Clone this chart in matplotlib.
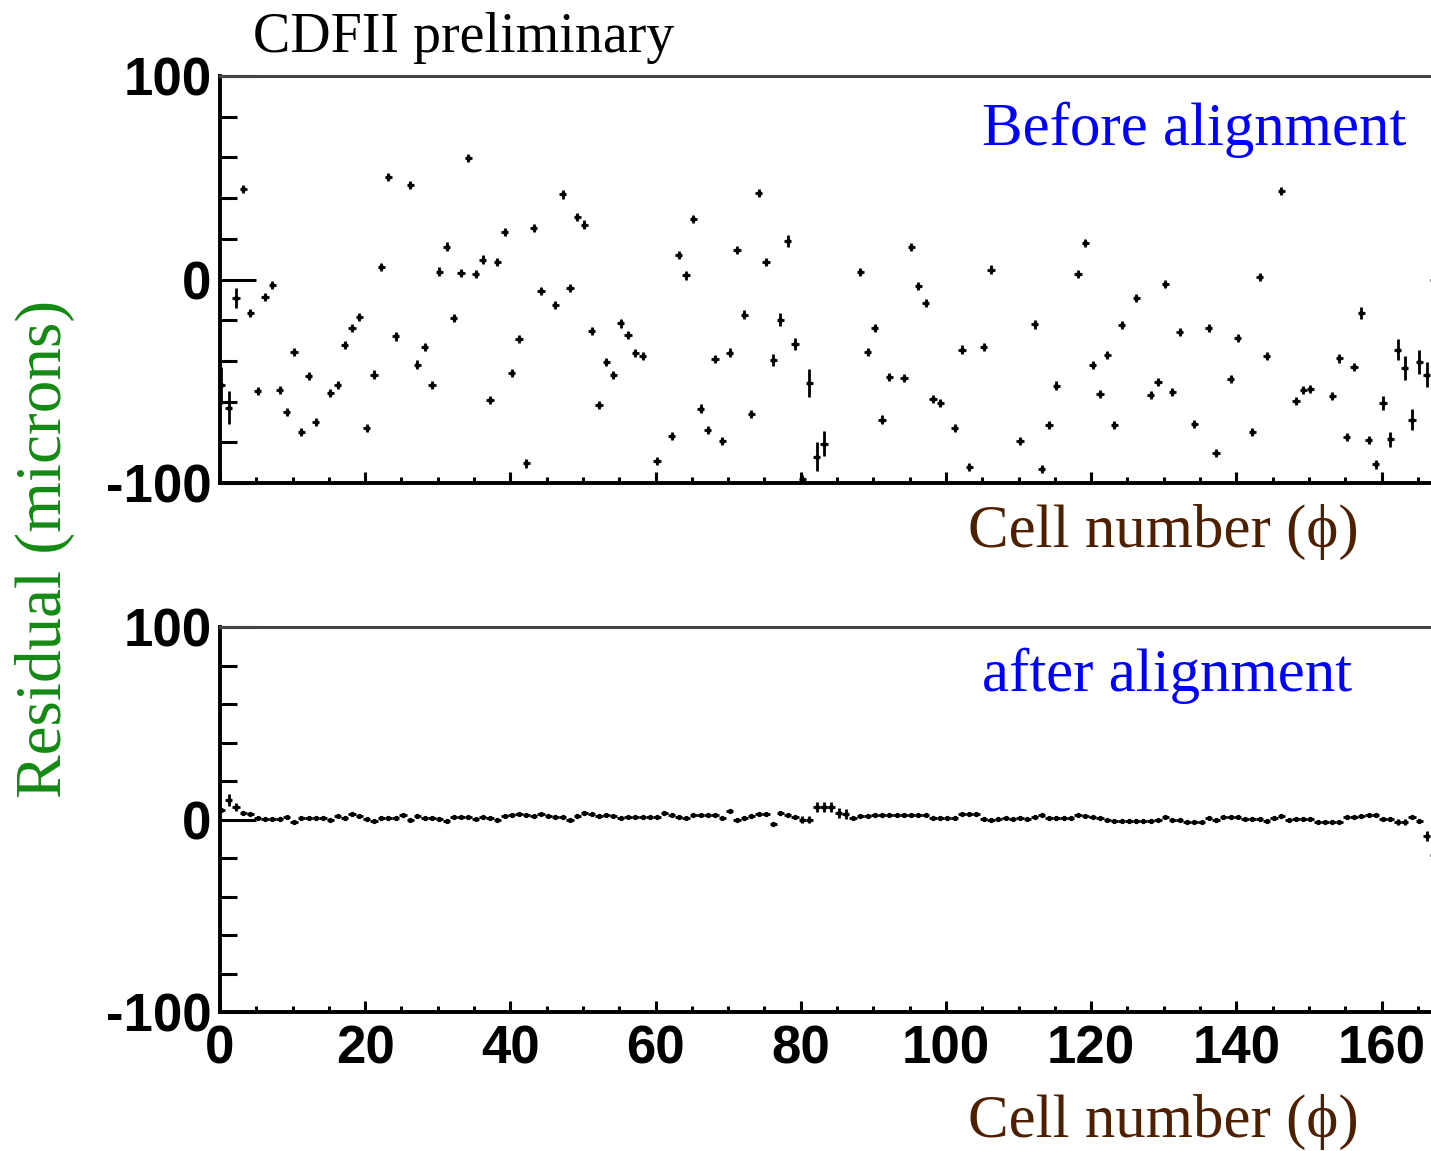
import numpy as np
import matplotlib
matplotlib.use("Agg")
import matplotlib.pyplot as plt
from matplotlib.ticker import MultipleLocator

plt.rcParams["axes.unicode_minus"] = False
nan = np.nan

# residuals per cell (microns), cells 0..167; nan = outside the plotted range
before = [
    -52, -63, -9, 44.6, -16.4, -55, -8.5, -2.8, -54.5, -65,
    -35.7, -75, -47.5, -70, nan, -55.7, -52, -32, -23.7, -18.3,
    -73, -46.7, 6.2, 50.5, -28, nan, 46.3, -41.8, -33, -52,
    3.9, 16.2, -18.8, 3.3, 59.8, 2.5, 9.8, -59.3, 8.8, 23.4,
    -45.9, -29.2, -90.4, 25.4, -5.7, nan, -12.4, 41.8, -4.3, 30.6,
    27, -25.4, -61.6, -40.4, -46.8, -21.6, -27.2, -36, -37.5, nan,
    -89.3, nan, -76.7, 11.9, 2, 29.8, -63.4, -74, -39.2, -79.5,
    -35.9, 14.4, -17.2, -66.3, 42.6, 8.7, -39.6, -19.7, 18.8, -31.6,
    -98, -50.8, -87, -80.6, nan, nan, nan, nan, 3.8, -35.7,
    -23.8, -68.8, -47.8, nan, -48.6, 16, -3.3, -11.5, -58.6, -60.6,
    nan, -72.9, -34.4, -92, nan, -33.1, 4.9, nan, nan, nan,
    -79.5, nan, -22.1, -93, -71.6, -52.1, nan, nan, 2.8, 18,
    -42.1, -56.2, -36.9, -71.7, -22.4, nan, -9.2, nan, -56.8, -50.3,
    -2.1, -55.2, -25.9, nan, -70.9, nan, -23.7, -85.2, nan, -49.1,
    -28.7, nan, -75, 1.1, -37.7, nan, 43.4, nan, -59.5, -54.5,
    -53.7, nan, nan, -57.3, -38.8, -77.5, -42.9, -16.4, -79, -90.9,
    -60.6, -78.6, -34.4, -43.4, -68.8, -40.6, -46.7, 0,
]
before_err = [2.0] * 168
for c, e in {0: 9, 1: 8, 2: 5, 76: 3, 77: 3, 78: 3, 79: 3, 81: 7, 82: 7, 83: 6,
             157: 3, 160: 3.5, 161: 3.5, 162: 5, 163: 6, 164: 5, 165: 6, 166: 6}.items():
    before_err[c] = e

after = [
    5, 10, 6.5, 3.5, 3, 1, 0.5, 0.5, 0.5, 1.5,
    -1.5, 0.8, 1, 1, 0.8, -0.3, 2, 1, 2.8, 1.8,
    0.5, -0.8, 0.7, 0.8, 1, 2.5, 0, 2, 0.8, 0.7,
    0.5, -0.7, 1.5, 1.5, 1.2, 0.2, 1.2, 1, 0, 1.8,
    2.5, 3, 2.5, 2, 2.8, 1.8, 1.5, 1.5, 0, 2,
    3.2, 3, 1.8, 2.5, 2, 1, 1.5, 1.5, 1.5, 1.5,
    1.2, 3.2, 2.2, 1.5, 0.7, 2.5, 2.5, 2.2, 2.2, 0.8,
    4.5, 0, 1, 2, 3, 3, -2.5, 3.3, 2.5, 1.5,
    0, 0, 6.5, 6.5, 6.5, 3.5, 3, 1, 2, 2,
    2.2, 2.2, 2.2, 2.5, 2.5, 2.5, 2.5, 2.5, 0.8, 0.8,
    0.8, 0.8, 3, 3, 3, 0.2, 0, 0.5, 0.9, 0.4,
    0.9, 0.4, 1.2, 2.2, 0.9, 0.9, 0.9, 0.9, 2.2, 1.8,
    1.5, 0.9, -0.5, -0.8, -0.8, -0.8, -0.8, -0.8, -0.8, -0.5,
    1.2, 0, 0, -1.2, -1.2, -1.2, 1, -0.3, 1.4, 1.4,
    1.4, 0.2, 0.2, 0.2, -0.9, 1, 1.6, -0.5, 0.5, 0.5,
    0.5, -1.4, -1.4, -1.2, -1.2, 1.4, 1.4, 2, 2.2, 2.2,
    0.2, 0.2, -1.4, -1.4, 1.4, -0.8, -8.5, -18.5,
]
after_err = [1.0] * 168
for c, e in {1: 3, 2: 2, 80: 2, 81: 2, 82: 2.5, 83: 2.5, 84: 2.5, 85: 2.5, 86: 2.5,
             162: 1.5, 163: 1.5, 166: 2.5, 167: 2.5}.items():
    after_err[c] = e

cells = np.arange(len(before))
xpos = cells + 0.2

serif = ["Liberation Serif", "DejaVu Serif"]
sans = "Liberation Sans"

fig = plt.figure(figsize=(14.31, 11.51), dpi=100)
W, H = 1431, 1151


def frame(ax, ticklabels_x):
    ax.set_xlim(0, 167.4)
    ax.set_ylim(-100, 100)
    ax.xaxis.set_major_locator(MultipleLocator(20))
    ax.xaxis.set_minor_locator(MultipleLocator(5))
    ax.yaxis.set_major_locator(MultipleLocator(100))
    ax.yaxis.set_minor_locator(MultipleLocator(20))
    ax.tick_params(axis="both", which="both", direction="in", width=2.2,
                   top=False, right=False, color="black")
    ax.tick_params(axis="y", which="major", length=26, pad=6)
    ax.tick_params(axis="y", which="minor", length=12)
    ax.tick_params(axis="x", which="major", length=8, pad=9)
    ax.tick_params(axis="x", which="minor", length=4)
    ax.tick_params(axis="x", labelbottom=ticklabels_x)
    for lab in ax.get_xticklabels() + ax.get_yticklabels():
        lab.set_fontfamily(sans)
        lab.set_fontweight("bold")
        lab.set_fontsize(38)
    ax.spines["left"].set_linewidth(2.8)
    ax.spines["bottom"].set_linewidth(2.8)
    ax.spines["top"].set_linewidth(2.2)
    ax.spines["top"].set_color("#444444")
    ax.spines["right"].set_visible(False)


ax1 = fig.add_axes([220 / W, 1 - 483 / H, 1.0 - 220 / W + 0.003, (483 - 76) / H])
ax1.errorbar(xpos, before, yerr=before_err, xerr=0.5, fmt="o", ms=2.8,
             color="black", ecolor="black", elinewidth=2.0, capsize=0)
frame(ax1, False)

ax2 = fig.add_axes([220 / W, 1 - 1012 / H, 1.0 - 220 / W + 0.003, (1012 - 627) / H])
ax2.errorbar(xpos, after, yerr=after_err, xerr=0.5, fmt="o", ms=2.8,
             color="black", ecolor="black", elinewidth=2.0, capsize=0)
frame(ax2, True)

brown = "#4f2000"
fig.text(253 / W, 1 - 52 / H, "CDFII preliminary", family=serif, fontsize=40.3,
         color="black", ha="left", va="baseline")
fig.text(982 / W, 1 - 145 / H, "Before alignment", family=serif, fontsize=43.8,
         color="#0000ff", ha="left", va="baseline")
fig.text(982 / W, 1 - 691 / H, "after alignment", family=serif, fontsize=43.8,
         color="#0000ff", ha="left", va="baseline")
fig.text(968 / W, 1 - 547 / H, "Cell number (\u03d5)", family=serif, fontsize=43.8,
         color=brown, ha="left", va="baseline")
fig.text(968 / W, 1 - 1137 / H, "Cell number (\u03d5)", family=serif, fontsize=43.8,
         color=brown, ha="left", va="baseline")
fig.text(45 / W, 1 - 549 / H, "Residual (microns)", family=serif, fontsize=47,
         color="#138a13", rotation=90, ha="center", va="center")

fig.savefig("out.png", dpi=100)
